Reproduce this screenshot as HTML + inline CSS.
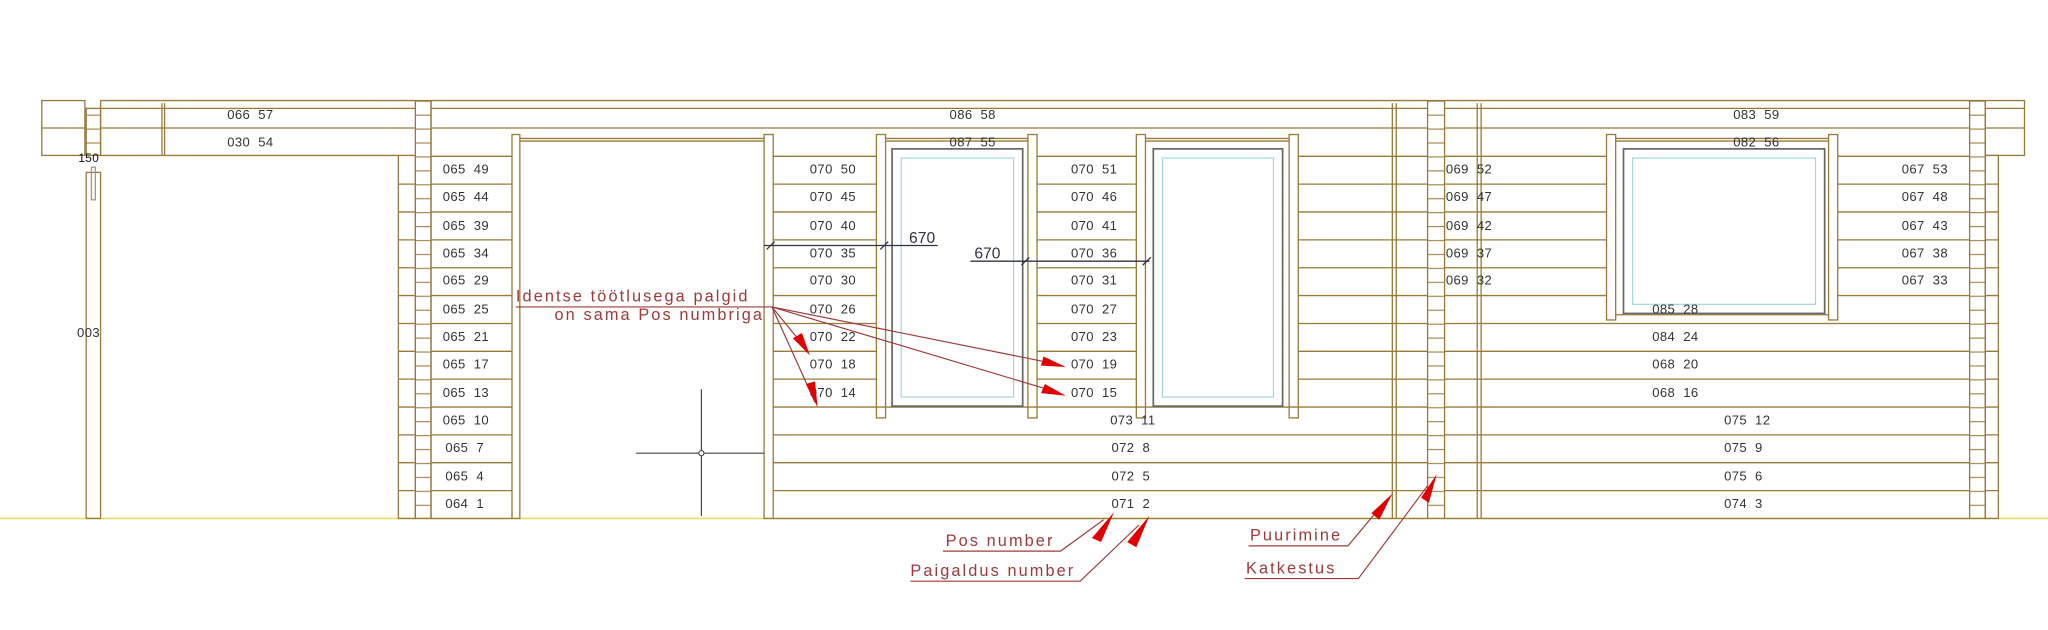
<!DOCTYPE html>
<html><head><meta charset="utf-8"><style>
html,body{margin:0;padding:0;background:#fff;width:2048px;height:630px;overflow:hidden}
svg{display:block}
text{white-space:pre}
.l{stroke:#9a7a3a;stroke-width:1;fill:none}
.t{font-family:"Liberation Sans",sans-serif;font-size:10px;fill:#333;letter-spacing:0.3px}
.r{font-family:"Liberation Sans",sans-serif;font-size:12.5px;fill:#a03a3a;letter-spacing:1.6px}
.rl{stroke:#a03a3a;stroke-width:0.9;fill:none}
.ar{fill:#e00000}
.d{stroke:#334;stroke-width:1}
</style></head><body>
<svg width="2048" height="630" viewBox="0 0 1568 482.4" preserveAspectRatio="none" xmlns="http://www.w3.org/2000/svg">
<defs>
<pattern id="lad" x="0" y="77" width="12" height="10.67" patternUnits="userSpaceOnUse">
<line x1="0" y1="0.5" x2="12" y2="0.5" stroke="#9a7a3a" stroke-width="0.8"/>
</pattern>
</defs>
<line x1="0" y1="397" x2="1568" y2="397" stroke="#eedc6a" stroke-width="1.2"/>

<g class="l">
<rect x="32" y="77" width="33" height="42"/>
<line x1="32" y1="98" x2="65" y2="98"/>
<path d="M77 77 H318 M77 83 H318 M77 98 H318 M77 119 H305"/>
<line x1="77" y1="77" x2="77" y2="119"/>
<line x1="124" y1="79" x2="124" y2="119"/><line x1="126" y1="79" x2="126" y2="119"/>
<rect x="66" y="83" width="11" height="36" fill="url(#lad)"/>
<rect x="66" y="132" width="11" height="265"/>
<rect x="70" y="128" width="3" height="25" stroke="#999"/>
<rect x="305" y="119" width="13" height="278"/>
<rect x="318" y="77" width="12" height="320" fill="url(#lad)"/>
</g>
<text class="t" x="60" y="124" style="font-size:9px;fill:#111">150</text>
<text class="t" x="59" y="258">003</text>
<text class="t" x="174" y="91">066  57</text>
<text class="t" x="174" y="112">030  54</text>

<g class="l">
<path d="M330 77 H1093 M330 83 H1093 M330 98 H1093"/>
<line x1="330" y1="77" x2="330" y2="397"/>
<path d="M330 119.7H392 M330 141H392 M330 162.3H392 M330 183.7H392 M330 205H392 M330 226.3H392 M330 247.7H392 M330 269H392 M330 290.3H392 M330 311.7H392 M330 333H392 M330 354.3H392 M330 375.7H392 M330 397H392"/>
<rect x="392" y="103" width="6" height="294"/>
<rect x="585" y="103" width="7" height="294"/>
<path d="M398 106H585 M398 108H585"/>
<path d="M592 119.7H671 M592 141H671 M592 162.3H671 M592 183.7H671 M592 205H671 M592 226.3H671 M592 247.7H671 M592 269H671 M592 290.3H671"/>
<rect x="671" y="103" width="7" height="217"/>
<rect x="787" y="103" width="7" height="217"/>
<path d="M678 106H787 M678 108H787"/>
<path d="M794 119.7H870 M794 141H870 M794 162.3H870 M794 183.7H870 M794 205H870 M794 226.3H870 M794 247.7H870 M794 269H870 M794 290.3H870"/>
<rect x="870" y="103" width="7" height="217"/>
<rect x="987" y="103" width="7" height="217"/>
<path d="M877 106H987 M877 108H987"/>
<path d="M994 119.7H1093 M994 141H1093 M994 162.3H1093 M994 183.7H1093 M994 205H1093 M994 226.3H1093 M994 247.7H1093 M994 269H1093 M994 290.3H1093"/>
<path d="M592 311.7H1093 M592 333H1093 M592 354.3H1093 M592 375.7H1093 M592 397H1093"/>
<line x1="1066" y1="79" x2="1066" y2="397"/><line x1="1069" y1="79" x2="1069" y2="397"/>
<rect x="1093" y="77" width="13" height="320" fill="url(#lad)"/>
</g>
<g fill="none">
<rect x="683" y="114" width="100" height="197" stroke="#666" stroke-width="1.3"/>
<rect x="690" y="121" width="86" height="183" stroke="#9dd8e0" stroke-width="0.9"/>
<rect x="883" y="114" width="99" height="197" stroke="#666" stroke-width="1.3"/>
<rect x="890" y="121" width="85" height="183" stroke="#9dd8e0" stroke-width="0.9"/>
<rect x="1243" y="114" width="154" height="126" stroke="#666" stroke-width="1.3"/>
<rect x="1250" y="121" width="140" height="112" stroke="#9dd8e0" stroke-width="0.9"/>
</g>
<g class="t">
<text x="727" y="91">086  58</text>
<text x="727" y="112">087  55</text>
<text x="339" y="133">065  49</text><text x="339" y="154">065  44</text><text x="339" y="176">065  39</text><text x="339" y="197">065  34</text><text x="339" y="218">065  29</text><text x="339" y="240">065  25</text><text x="339" y="261">065  21</text><text x="339" y="282">065  17</text><text x="339" y="304">065  13</text><text x="339" y="325">065  10</text><text x="341" y="346">065  7</text><text x="341" y="368">065  4</text><text x="341" y="389">064  1</text>
<text x="620" y="133">070  50</text><text x="620" y="154">070  45</text><text x="620" y="176">070  40</text><text x="620" y="197">070  35</text><text x="620" y="218">070  30</text><text x="620" y="240">070  26</text><text x="620" y="261">070  22</text><text x="620" y="282">070  18</text><text x="620" y="304">070  14</text>
<text x="820" y="133">070  51</text><text x="820" y="154">070  46</text><text x="820" y="176">070  41</text><text x="820" y="197">070  36</text><text x="820" y="218">070  31</text><text x="820" y="240">070  27</text><text x="820" y="261">070  23</text><text x="820" y="282">070  19</text><text x="820" y="304">070  15</text>
<text x="850" y="325">073  11</text><text x="851" y="346">072  8</text><text x="851" y="368">072  5</text><text x="851" y="389">071  2</text>
</g>

<g class="l">
<path d="M1106 77 H1508 M1106 83 H1508 M1106 98 H1508"/>
<line x1="1131" y1="79" x2="1131" y2="397"/><line x1="1134" y1="79" x2="1134" y2="397"/>
<path d="M1106 119.7H1230 M1106 141H1230 M1106 162.3H1230 M1106 183.7H1230 M1106 205H1230 M1106 226.3H1230"/>
<path d="M1407 119.7H1508 M1407 141H1508 M1407 162.3H1508 M1407 183.7H1508 M1407 205H1508 M1407 226.3H1508"/>
<rect x="1230" y="103" width="7" height="142"/>
<rect x="1400" y="103" width="7" height="142"/>
<path d="M1237 106H1400 M1237 108H1400 M1237 241H1400"/>
<path d="M1106 247.7H1508 M1106 269H1508 M1106 290.3H1508 M1106 311.7H1508 M1106 333H1508 M1106 354.3H1508 M1106 375.7H1508 M1106 397H1508"/>
<rect x="1508" y="77" width="12" height="320" fill="url(#lad)"/>
<rect x="1520" y="77" width="30" height="42"/>
<path d="M1520 83H1550 M1520 98H1550"/>
<rect x="1520" y="119" width="10" height="278"/>
<path d="M1520 141H1530 M1520 162.3H1530 M1520 183.7H1530 M1520 205H1530 M1520 226.3H1530 M1520 247.7H1530 M1520 269H1530 M1520 290.3H1530 M1520 311.7H1530 M1520 333H1530 M1520 354.3H1530 M1520 375.7H1530"/>
<path d="M305 141H318 M305 162.3H318 M305 183.7H318 M305 205H318 M305 226.3H318 M305 247.7H318 M305 269H318 M305 290.3H318 M305 311.7H318 M305 333H318 M305 354.3H318 M305 375.7H318"/>
</g>
<g class="t">
<text x="1327" y="91">083  59</text><text x="1327" y="112">082  56</text>
<text x="1107" y="133">069  52</text><text x="1107" y="154">069  47</text><text x="1107" y="176">069  42</text><text x="1107" y="197">069  37</text><text x="1107" y="218">069  32</text>
<text x="1456" y="133">067  53</text><text x="1456" y="154">067  48</text><text x="1456" y="176">067  43</text><text x="1456" y="197">067  38</text><text x="1456" y="218">067  33</text>
<text x="1265" y="240">085  28</text><text x="1265" y="261">084  24</text><text x="1265" y="282">068  20</text><text x="1265" y="304">068  16</text>
<text x="1320" y="325">075  12</text><text x="1320" y="346">075  9</text><text x="1320" y="368">075  6</text><text x="1320" y="389">074  3</text>
</g>

<g class="d">
<line x1="585" y1="188" x2="718" y2="188"/>
<line x1="587" y1="191" x2="593" y2="185"/><line x1="674" y1="191" x2="680" y2="185"/>
<line x1="743" y1="200" x2="880" y2="200"/>
<line x1="782" y1="203" x2="788" y2="197"/><line x1="875" y1="203" x2="881" y2="197"/>
</g>
<text x="696" y="186" style="font-family:'Liberation Sans',sans-serif;font-size:12px;fill:#334">670</text>
<text x="746" y="198" style="font-family:'Liberation Sans',sans-serif;font-size:12px;fill:#334">670</text>

<g stroke="#444" stroke-width="0.9">
<line x1="537" y1="298" x2="537" y2="395"/>
<line x1="487" y1="347" x2="585" y2="347"/>
</g>
<circle cx="537" cy="347" r="2" fill="#fff" stroke="#444" stroke-width="0.8"/>

<text class="r" x="395" y="231">Identse töötlusega palgid</text>
<text class="r" x="585" y="245" text-anchor="end">on sama Pos numbriga</text>
<g class="rl">
<line x1="395" y1="235" x2="591" y2="235"/>
<line x1="591" y1="235" x2="618" y2="268"/>
<line x1="591" y1="235" x2="624" y2="308"/>
<line x1="591" y1="235" x2="805" y2="278"/>
<line x1="591" y1="235" x2="805" y2="299"/>
</g>
<g class="ar">
<polygon points="620,272 607,259 614,255"/>
<polygon points="626,312 617,294 624,292"/>
<polygon points="816,281 797,280 799,273"/>
<polygon points="816,303 797,301 800,294"/>
</g>
<text class="r" x="724" y="418">Pos number</text>
<text class="r" x="697" y="441">Paigaldus number</text>
<text class="r" x="957" y="414">Puurimine</text>
<text class="r" x="954" y="439">Katkestus</text>
<g class="rl">
<path d="M722 422 H812 L845 398"/>
<path d="M697 445 H827 L872 402"/>
<path d="M956 418 H1032 L1058 387"/>
<path d="M953 443 H1040 L1093 372"/>
</g>
<g class="ar">
<polygon points="853,392 836,412 843,415"/>
<polygon points="880,395 863,415 870,419"/>
<polygon points="1066,378 1050,393 1056,398"/>
<polygon points="1100,363 1088,381 1094,385"/>
</g>
</svg>
</body></html>
